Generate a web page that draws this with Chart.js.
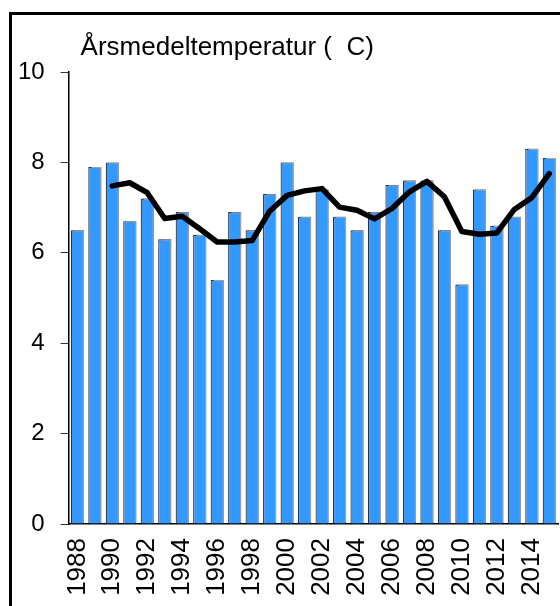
<!DOCTYPE html>
<html>
<head>
<meta charset="utf-8">
<script src="https://cdn.jsdelivr.net/npm/chart.js@4"></script>
<style>
    html, body { margin: 0; padding: 0; background: #fff; }
    #wrap { position: relative; width: 560px; height: 606px; overflow: hidden; }
    #frame {
        position: absolute; left: 9px; top: 12px; width: 600px; height: 650px;
        border-left: 3px solid #000; border-top: 3px solid #000;
    }
    #chart { position: absolute; left: 0; top: 0; }
</style>
</head>
<body>
<div id="wrap">
    <div id="frame"></div>
    <canvas id="chart" width="560" height="606"></canvas>
</div>
<script>
// årsmedeltemperatur, staplar + glidande medel
const years = [1988, 1989, 1990, 1991, 1992, 1993, 1994, 1995, 1996, 1997,
    1998, 1999, 2000, 2001, 2002, 2003, 2004, 2005, 2006, 2007,
    2008, 2009, 2010, 2011, 2012, 2013, 2014, 2015];
const tempValues = [6.5, 7.9, 8.0, 6.7, 7.2, 6.3, 6.9, 6.4, 5.4, 6.9,
    6.5, 7.3, 8.0, 6.8, 7.4, 6.8, 6.5, 6.9, 7.5, 7.6,
    7.6, 6.5, 5.3, 7.4, 6.6, 6.8, 8.3, 8.1];
const meanValues = [null, null, 7.48, 7.55, 7.33, 6.76, 6.81, 6.53, 6.24, 6.24,
    6.27, 6.92, 7.27, 7.37, 7.42, 7.01, 6.94, 6.75, 6.98, 7.35,
    7.58, 7.24, 6.47, 6.41, 6.44, 6.96, 7.22, 7.75];
const yTicks = [0, 2, 4, 6, 8, 10];
const titleText = 'Årsmedeltemperatur (  C)';

const FONT = '"Liberation Sans", Arial, sans-serif';

// grå skugga bakom staplarna
const barShadow = {
    id: 'barShadow',
    beforeDatasetDraw(chart, args) {
        if (args.meta.type !== 'bar') return;
        const ctx = chart.ctx;
        ctx.save();
        ctx.shadowColor = '#a0a0a0';
        ctx.shadowOffsetX = 2;
        ctx.shadowOffsetY = -1;
        ctx.shadowBlur = 0;
    },
    afterDatasetDraw(chart, args) {
        if (args.meta.type !== 'bar') return;
        chart.ctx.restore();
    }
};

const titlePlugin = {
    id: 'topTitle',
    afterDraw(chart) {
        const ctx = chart.ctx;
        const area = chart.chartArea;
        ctx.save();
        ctx.font = '26px ' + FONT;
        ctx.fillStyle = '#000';
        ctx.textBaseline = 'alphabetic';
        ctx.textAlign = 'left';
        ctx.fillText(titleText, area.left + 12, area.top - 17);
        ctx.restore();
    }
};

new Chart(document.getElementById('chart'), {
    type: 'bar',
    data: {
        labels: years,
        datasets: [{
            type: 'line',
            data: meanValues,
            borderColor: '#000',
            borderWidth: 5.5,
            pointRadius: 0,
            tension: 0,
            borderCapStyle: 'round',
            borderJoinStyle: 'round',
            spanGaps: false,
            order: 0
        }, {
            type: 'bar',
            data: tempValues,
            backgroundColor: '#3399ff',
            borderColor: '#17375e',
            borderWidth: 1.2,
            barPercentage: 0.75,
            categoryPercentage: 1,
            order: 1
        }]
    },
    plugins: [barShadow, titlePlugin],
    options: {
        responsive: false,
        animation: false,
        layout: { padding: { top: 72, right: 2, bottom: 0, left: 0 } },
        plugins: { legend: { display: false }, tooltip: { enabled: false } },
        scales: {
            x: {
                grid: { display: false, drawTicks: false },
                border: { display: true, color: '#000', width: 1.5 },
                ticks: {
                    autoSkip: false,
                    minRotation: 90,
                    maxRotation: 90,
                    padding: 14,
                    color: '#000',
                    font: { family: FONT, size: 26 },
                    callback: function(v, i) { return i % 2 === 0 ? years[i] : ''; }
                },
                afterFit: function(s) {
                    s.height = 82;
                    s.paddingLeft = 0;
                    s.paddingRight = 0;
                }
            },
            y: {
                min: 0,
                max: 10,
                afterBuildTicks: function(s) { s.ticks = yTicks.map(v => ({ value: v })); },
                grid: { drawOnChartArea: false, drawTicks: true, tickLength: 8, color: '#333' },
                border: { display: true, color: '#000', width: 1.5 },
                ticks: {
                    padding: 16,
                    color: '#000',
                    font: { family: FONT, size: 24 }
                },
                afterFit: function(s) { s.width = 68.6; }
            }
        }
    }
});
</script>
</body>
</html>
